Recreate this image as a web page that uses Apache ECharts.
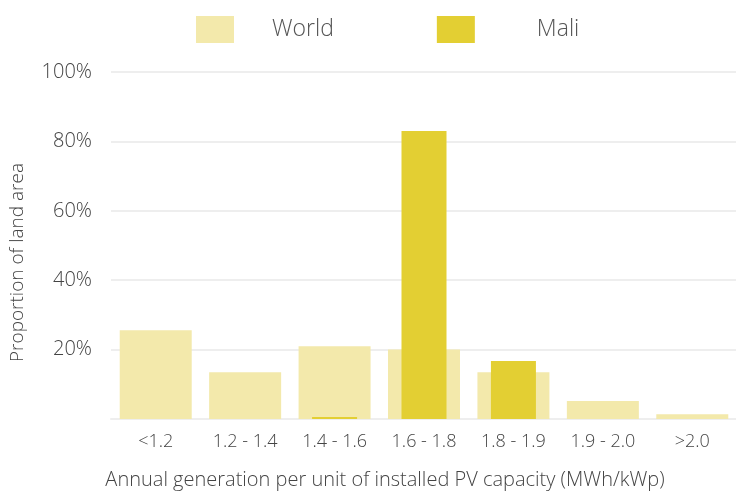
<!DOCTYPE html>
<html>
<head>
<meta charset="utf-8">
<script src="https://cdn.jsdelivr.net/npm/echarts@6/dist/echarts.min.js"></script>
<style>html,body{margin:0;padding:0;background:#fff}#c{width:736px;height:491px}</style>
</head>
<body>
<div id="c"></div>
<script>
const categories = ['<1.2', '1.2 - 1.4', '1.4 - 1.6', '1.6 - 1.8', '1.8 - 1.9', '1.9 - 2.0', '>2.0'];
const worldValues = [25.6, 13.5, 21.0, 20.0, 13.5, 5.2, 1.4];
const maliValues = [0, 0, 0.6, 83.0, 16.7, 0, 0];
const yTicks = [0, 20, 40, 60, 80, 100];

const FONT = '"Open Sans", sans-serif';
const legendText = { fontSize: 23, color: '#555', fontFamily: FONT, fontWeight: 300 };
const chart = echarts.init(document.getElementById('c'));
chart.setOption({
  animation: false,
  textStyle: { fontFamily: FONT, fontWeight: 300 },
  legend: {
    top: 16, left: 196, padding: 0,
    itemWidth: 38, itemHeight: 27, itemGap: 103,
    icon: 'rect',
    formatter: name => name === 'Mali' ? '{m|' + name + '}' : '{w|' + name + '}',
    textStyle: Object.assign({}, legendText, {
      rich: {
        w: Object.assign({}, legendText, { padding: [0, 0, 0, 33] }),
        m: Object.assign({}, legendText, { padding: [0, 0, 0, 57] })
      }
    }),
    data: ['World', 'Mali']
  },
  grid: { left: 111, right: -1, top: 72, bottom: 72, outerBoundsMode: 'none', containLabel: false },
  xAxis: [{
    type: 'category', data: categories,
    axisLine: { lineStyle: { color: '#eeeeee', width: 2 } },
    axisTick: { show: false },
    axisLabel: { fontSize: 18, color: '#444', margin: 14, fontFamily: FONT, fontWeight: 300 },
    name: 'Annual generation per unit of installed PV capacity (MWh/kWp)',
    nameLocation: 'middle', nameGap: 51,
    nameTextStyle: { fontSize: 20, color: '#444', fontFamily: FONT, fontWeight: 300, padding: [0, 78, 0, 0] }
  }, {
    type: 'category', data: categories, show: false
  }],
  yAxis: {
    type: 'value', min: yTicks[0], max: yTicks[yTicks.length - 1], interval: 20,
    axisLine: { show: false }, axisTick: { show: false },
    splitLine: { lineStyle: { color: '#eeeeee', width: 2 } },
    axisLabel: { fontSize: 20, color: '#444', margin: 19, fontFamily: FONT, fontWeight: 300,
      formatter: v => v === 0 ? '' : v + '%' },
    name: 'Proportion of land area', nameLocation: 'middle', nameGap: 84,
    nameTextStyle: { fontSize: 19, color: '#444', fontFamily: FONT, fontWeight: 300, padding: [0, 34, 0, 0] }
  },
  series: [{
    name: 'World', type: 'bar', xAxisIndex: 0, barWidth: 72,
    itemStyle: { color: '#f3e9ab' }, data: worldValues
  }, {
    name: 'Mali', type: 'bar', xAxisIndex: 1, barWidth: 45,
    itemStyle: { color: '#e3cf33' }, data: maliValues
  }]
});
</script>
</body>
</html>
